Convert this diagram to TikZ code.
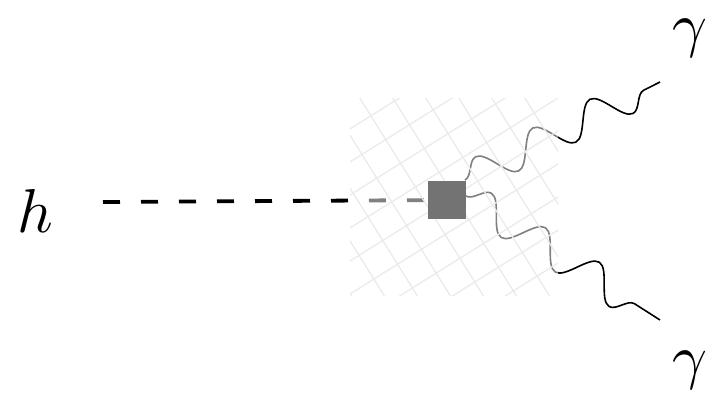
\documentclass[tikz,border=0pt]{standalone}
\usetikzlibrary{decorations.pathmorphing}
\begin{document}
\begin{tikzpicture}[x=1pt,y=-1pt,
  lbl/.style={inner sep=0pt},
  scalar/.style={line width=3.8pt,dash pattern=on 17pt off 21pt},
  photon/.style={line width=1.6pt,decorate,decoration={snake,segment length=64pt,amplitude=16pt}},
  vertex/.style={draw=none,fill=black!55,minimum size=38pt,inner sep=0pt}]
\useasboundingbox (0,0) rectangle (713,397);
\node[lbl] (h) at (35,211) {\scalebox{6.2}{$h$}};
\node[lbl] (g1) at (690,38) {\scalebox{6.1}{$\gamma$}};
\node[lbl] (g2) at (690,370) {\scalebox{6.1}{$\gamma$}};
\coordinate (hs) at (103,202);
\coordinate (vc) at (447,200);
\coordinate (e1) at (660,82);
\coordinate (e2) at (660,320);
\draw[scalar] (hs) -- (vc);
\draw[photon] (465,180) -- (e1);
\draw[photon] (466,196) -- (e2);
% translucent overlay with grid
\fill[white,opacity=0.5] (350,98) rectangle (558,295);
\begin{scope}
\clip (350,98) rectangle (558,295);
\foreach \k in {-12,...,12}{
  \draw[black!8,line width=1.3pt,rotate around={-58:(454,196)}] (454+\k*28,-100) -- (454+\k*28,500);
  \draw[black!8,line width=1.3pt,rotate around={32:(454,196)}] (454+\k*28,-100) -- (454+\k*28,500);
}
\end{scope}
\node[vertex] (v) at (vc) {};
\end{tikzpicture}
\end{document}
